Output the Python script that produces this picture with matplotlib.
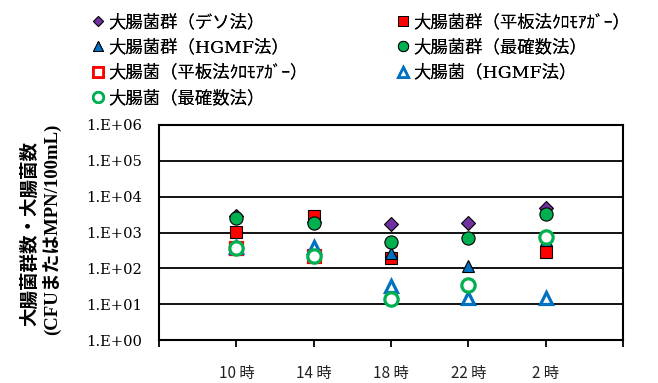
import numpy as np
import matplotlib
matplotlib.use("Agg")
import matplotlib.pyplot as plt
from matplotlib.lines import Line2D
from matplotlib.ticker import NullLocator

plt.rcParams['font.family'] = ['DejaVu Serif', 'Noto Sans CJK JP']

hours = ["10 時", "14 時", "18 時", "22 時", "2 時"]

# counts per sampling time (CFU or MPN / 100 mL); nan = not measured
coliform_deso = [2900, 2000, 1720, 1830, 4700]
coliform_plate = [1050, 2900, 190, np.nan, 290]
coliform_hgmf = [360, 400, 265, 118, 620]
coliform_mpn = [2500, 1830, 540, 690, 3300]
ecoli_plate = [380, 215, np.nan, np.nan, np.nan]
ecoli_hgmf = [390, 400, 32, 14.5, 14.5]
ecoli_mpn = [365, 215, 14, 35, 730]

yticks = [1e0, 1e1, 1e2, 1e3, 1e4, 1e5, 1e6]
ytick_labels = ["1.E+00", "1.E+01", "1.E+02", "1.E+03", "1.E+04", "1.E+05", "1.E+06"]

PURPLE = "#7030A0"
RED = "#FF0000"
BLUE = "#0070C0"
GREEN = "#00B050"

W, H = 658, 383
fig = plt.figure(figsize=(W / 100, H / 100), dpi=100)
ax = fig.add_axes([159 / W, 1 - 340 / H, (623 - 159) / W, (340 - 125) / H])

x = np.arange(1, len(hours) + 1)

series = [
    ("大腸菌群（デソ法）", coliform_deso, dict(marker="D", ms=6.8, mfc=PURPLE, mec="black", mew=0.8)),
    ("大腸菌群（平板法ｸﾛﾓｱｶﾞｰ）", coliform_plate, dict(marker="s", ms=9.3, mfc=RED, mec="black", mew=0.8)),
    ("大腸菌群（HGMF法）", coliform_hgmf, dict(marker="^", ms=9.3, mfc=BLUE, mec="black", mew=0.8)),
    ("大腸菌群（最確数法）", coliform_mpn, dict(marker="o", ms=9.5, mfc=GREEN, mec="black", mew=0.8)),
    ("大腸菌（平板法ｸﾛﾓｱｶﾞｰ）", ecoli_plate, dict(marker="s", ms=8.5, mfc="white", mec=RED, mew=2.3)),
    ("大腸菌（HGMF法）", ecoli_hgmf, dict(marker="^", ms=8.8, mfc="white", mec=BLUE, mew=2.3)),
    ("大腸菌（最確数法）", ecoli_mpn, dict(marker="o", ms=9.6, mfc="white", mec=GREEN, mew=2.3)),
]

handles = {}
for label, vals, style in series:
    h, = ax.plot(x, vals, linestyle="none", label=label, zorder=3, clip_on=False, **style)
    handles[label] = h

ax.set_yscale("log")
ax.set_ylim(1e0, 1e6)
ax.set_xlim(0, len(hours) + 1)
ax.set_yticks(yticks)
ax.set_yticklabels(ytick_labels, fontsize=10.6)
ax.yaxis.set_minor_locator(NullLocator())
ax.tick_params(axis="y", length=0, pad=12)

ax.set_xticks(np.arange(0, len(hours) + 2))
ax.set_xticklabels([""] + hours + [""], fontsize=11, color="#222222",
                   family=["Noto Sans CJK JP"])
ax.tick_params(axis="x", direction="out", length=5, width=1.3, pad=13)

ax.grid(axis="y", color="black", linewidth=1.3)
ax.set_axisbelow(True)
for s in ax.spines.values():
    s.set_linewidth(1.5)
    s.set_color("black")

fig.text(30 / W, 1 - 233 / H, "大腸菌群数・大腸菌数", rotation=90, ha="center", va="center",
         fontsize=13.3, fontweight="bold", family=["Liberation Serif", "Noto Sans CJK JP"])
fig.text(52 / W, 1 - 229 / H, "(CFUまたはMPN/100mL)", rotation=90, ha="center", va="center",
         fontsize=13.5, fontweight="bold", family=["Liberation Serif", "Noto Sans CJK JP"])


def legend_handle(label):
    h = handles[label]
    return Line2D([], [], linestyle="none", marker=h.get_marker(),
                  markersize=h.get_markersize() * 0.78, markerfacecolor=h.get_markerfacecolor(),
                  markeredgecolor=h.get_markeredgecolor(),
                  markeredgewidth=h.get_markeredgewidth() * 0.85)


columns = [
    (91, ["大腸菌群（デソ法）", "大腸菌群（HGMF法）", "大腸菌（平板法ｸﾛﾓｱｶﾞｰ）", "大腸菌（最確数法）"]),
    (396, ["大腸菌群（平板法ｸﾛﾓｱｶﾞｰ）", "大腸菌群（最確数法）", "大腸菌（HGMF法）"]),
]
for x0, labels in columns:
    leg = fig.legend([legend_handle(l) for l in labels], labels, loc="upper left",
                     bbox_to_anchor=(x0 / W, 1 - 14 / H), frameon=False,
                     handlelength=0.8, handletextpad=0.17, labelspacing=0.48,
                     borderaxespad=0, borderpad=0,
                     prop={"family": ["DejaVu Serif", "Noto Sans CJK JP"], "size": 12.5})
    fig.add_artist(leg)

fig.savefig("out.png", dpi=100)
